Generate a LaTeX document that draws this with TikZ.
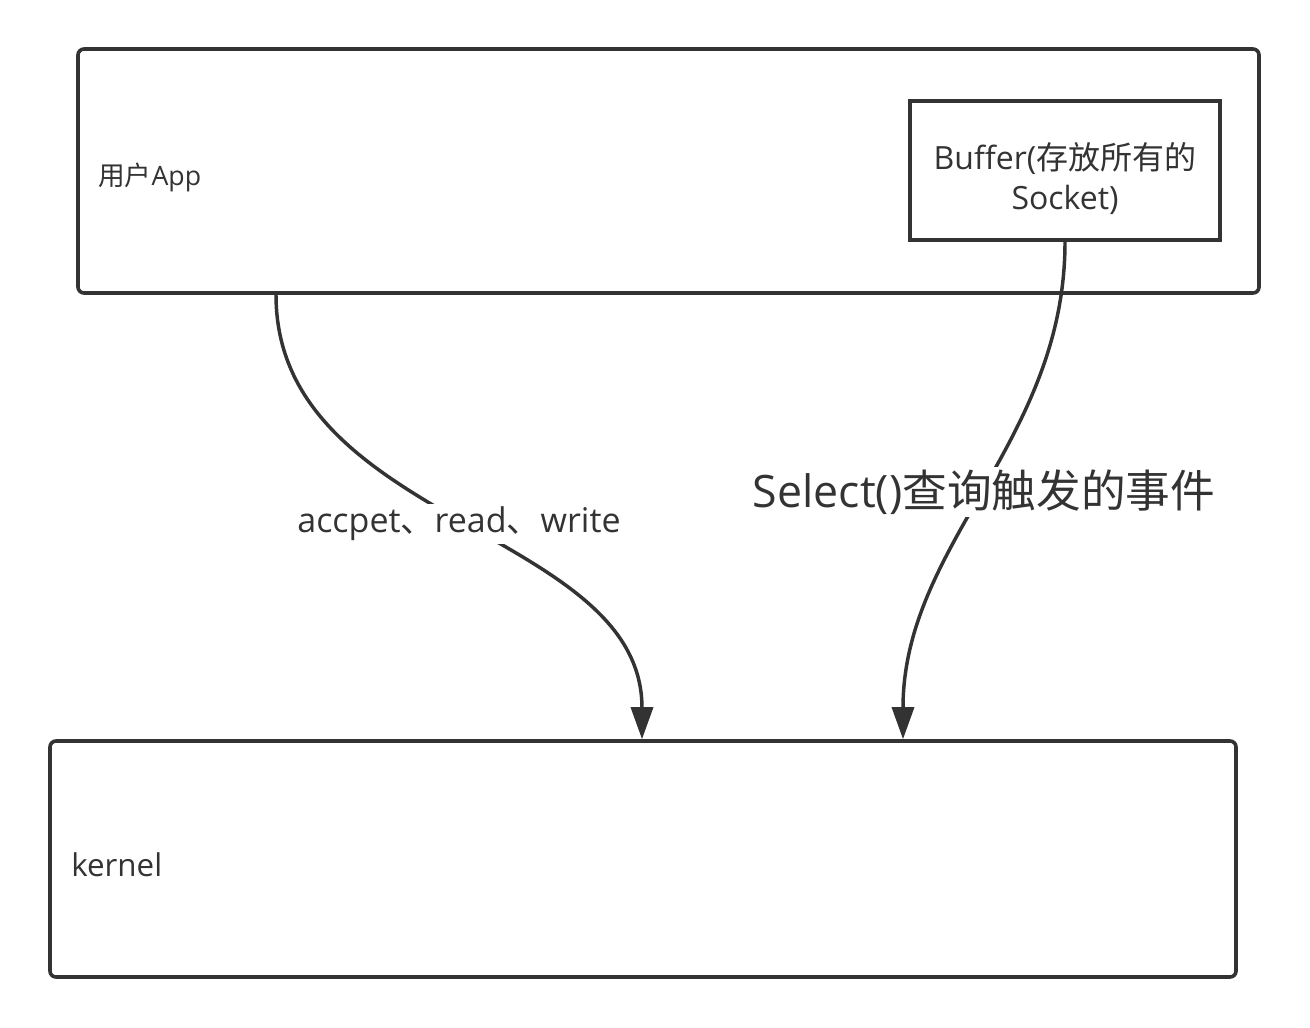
\documentclass[tikz,border=0pt]{standalone}
\usepackage{fontspec}
\setmainfont{Open Sans}
\newfontfamily\cjk{Noto Sans CJK SC}
\usetikzlibrary{arrows.meta}
\definecolor{ink}{HTML}{333333}
\begin{document}
\begin{tikzpicture}[x=0.75pt,y=-0.75pt,
  box/.style={draw=ink, line width=2.7pt, rounded corners=4.5pt, fill=white, inner sep=0pt},
  sqbox/.style={draw=ink, line width=2.7pt, fill=white, inner sep=0pt},
  txt/.style={text=ink, inner sep=0pt},
  conn/.style={draw=ink, line width=2.6pt, -{Triangle[length=24pt,width=16.5pt]}},
  lbl/.style={fill=white, text=ink, inner sep=2pt}]
\useasboundingbox (0,0) rectangle (1310,1028);
\fill[white] (0,0) rectangle (1310,1028);
% boxes
\node[box, minimum width=885.75pt, minimum height=183pt] (app) at (668.5,171) {};
\node[sqbox, minimum width=232.5pt, minimum height=104.25pt] (buf) at (1065,170.5) {};
\node[box, minimum width=889.5pt, minimum height=177pt] (kernel) at (643,859) {};
% texts
\node[txt, anchor=base west, font=\fontsize{20}{24}\selectfont] (applbl) at (98,185) {{\cjk 用户}App};
\node[txt, align=center, font=\fontsize{24}{30}\selectfont] (buflbl) at (1065,179) {Buffer({\cjk 存放所有的}\\Socket)};
\node[txt, anchor=base west, font=\fontsize{23.5}{28}\selectfont] (kernellbl) at (71,876) {kernel};
% anchor columns
\coordinate (a1) at (276,0);
\coordinate (a2) at (642,0);
\coordinate (b1) at (1065,0);
\coordinate (b2) at (903,0);
% connectors
\draw[conn] (app.south -| a1) .. controls (276,524) and (642,529) .. (kernel.north -| a2)
  node[lbl, pos=0.5, font=\fontsize{25.5}{30}\selectfont] (l1) {accpet{\cjk 、}read{\cjk 、}write};
\draw[conn] (buf.south -| b1) .. controls (1065,442) and (903,543) .. (kernel.north -| b2)
  node[lbl, pos=0.5, font=\fontsize{33.5}{40}\selectfont] (l2) {Select(){\cjk 查询触发的事件}};
\end{tikzpicture}
\end{document}
